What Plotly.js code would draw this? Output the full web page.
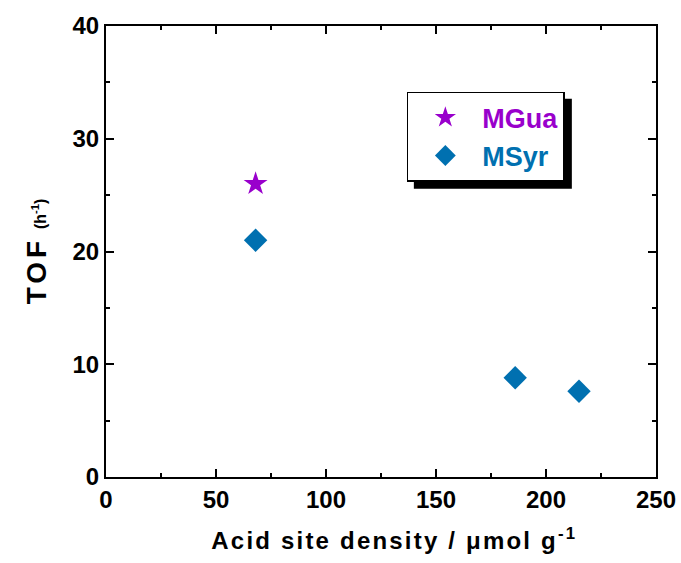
<!DOCTYPE html>
<html><head><meta charset="utf-8">
<script src="https://cdn.plot.ly/plotly-3.0.1.min.js"></script>
<style>body{margin:0;background:#fff}#c{width:681px;height:563px}</style>
</head><body><div id="c"></div>
<script>
const mguaX = [68];
const mguaY = [26];
const msyrX = [68, 186, 215];
const msyrY = [21, 8.8, 7.6];
const xTicks = [0, 50, 100, 150, 200, 250];
const yTicks = [0, 10, 20, 30, 40];

const F = 'Liberation Sans, Arial, sans-serif';
const traces = [
  {x: mguaX, y: mguaY, mode: 'markers', type: 'scatter', name: "<span style='color:#9900cc'>MGua</span>",
   marker: {symbol: 'star', size: 18, color: '#9900cc'}},
  {x: msyrX, y: msyrY, mode: 'markers', type: 'scatter', name: "<span style='color:#0070b0'>MSyr</span>",
   marker: {symbol: 'diamond', size: 18, color: '#0070b0'}}
];
const ax = {
  showgrid: false, zeroline: false, showline: true, linecolor: '#000', linewidth: 2, mirror: 'ticks',
  ticks: 'inside', ticklen: 8, tickwidth: 2, tickcolor: '#000',
  tickfont: {family: F, size: 24, color: '#000', weight: 'bold'},
  minor: {ticks: 'inside', ticklen: 4, tickwidth: 2, tickcolor: '#000'}
};
const M = {l: 106, r: 25, t: 26, b: 86};
const layout = {
  width: 681, height: 563,
  margin: M,
  paper_bgcolor: '#fff', plot_bgcolor: '#fff',
  showlegend: true,
  xaxis: Object.assign({}, ax, {range: [0, 250], tickvals: xTicks, minor: Object.assign({}, ax.minor, {dtick: 25}),
    title: {text: "<span style='letter-spacing:2.2px'>&nbsp;&nbsp;&nbsp;Acid site density / \u03bcmol g<sup>-1</sup></span>", font: {family: F, size: 24, color: '#000', weight: 'bold'}, standoff: 20}}),
  yaxis: Object.assign({}, ax, {range: [0, 40], tickvals: yTicks, minor: Object.assign({}, ax.minor, {dtick: 5}),
    title: {text: "<span style='letter-spacing:4px'>TOF</span> <span style='font-size:16px'>(h<sup>-1</sup>)</span>", font: {family: F, size: 28, color: '#000', weight: 'bold'}, standoff: 18}}),
  legend: {x: 0.547, y: 0.854, xanchor: 'left', yanchor: 'top', bgcolor: '#fff', bordercolor: '#000', borderwidth: 1.5,
    font: {family: F, size: 27, color: '#000', weight: 'bold'}, itemsizing: 'trace', itemwidth: 64, tracegroupgap: 0},
  shapes: []
};
const gd = document.getElementById('c');
Plotly.newPlot(gd, traces, layout, {displayModeBar: false, staticPlot: true}).then(function () {
  const L = gd._fullLayout.legend;
  const pw = 681 - M.l - M.r, ph = 563 - M.t - M.b;
  const off = 7;
  const x0 = L.x + off / pw, x1 = L.x + (L._width + off) / pw;
  const y1 = L.y - off / ph, y0 = L.y - (L._height + off) / ph;
  return Plotly.relayout(gd, {shapes: [{type: 'rect', xref: 'paper', yref: 'paper', x0: x0, x1: x1, y0: y0, y1: y1,
    fillcolor: '#000', line: {width: 0}, layer: 'above'}]});
});
</script></body></html>
